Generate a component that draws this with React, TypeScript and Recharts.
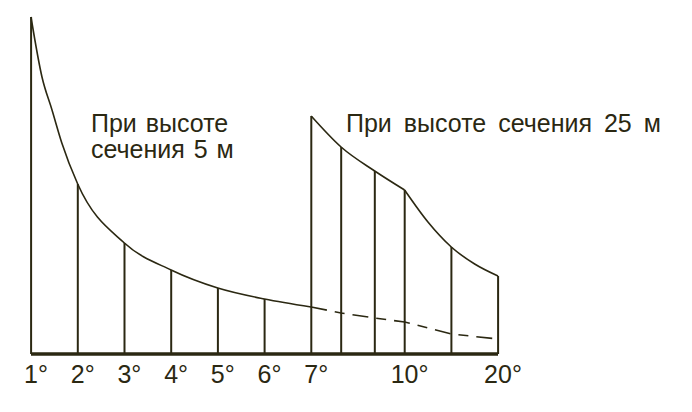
import { ComposedChart, Line, Bar, XAxis, YAxis } from "recharts";

// angle positions on the broken x scale (7° → 10° → 20° squeezed)
const tickPos = [1, 2, 3, 4, 5, 6, 7, 9, 11];
const tickLabels = ["1", "2", "3", "4", "5", "6", "7", "10", "20"];

// section height 5 m
const lowX = [1, 1.235, 1.45, 1.66, 2, 3, 4, 5, 6, 7];
const lowH = [337, 277, 244, 211, 170, 111, 84, 66, 55, 47];

// section height 25 m, up to 10° and after 10° (corner at 10°)
const highAX = [7, 7.64, 8.36, 9];
const highAH = [238, 207, 183, 164];
const highBX = [9, 9.5, 10, 10.5, 11];
const highBH = [164, 132, 107, 90, 78];

// continuation of the 5 m curve
const dashX = [7, 7.64, 8.36, 9, 10, 11];
const dashH = [47, 41, 36, 32, 20, 15];

const stemX = [1, 2, 3, 4, 5, 6, 7, 7.64, 8.36, 9, 10, 11];

const INK = "#2b2812";
const FONT = "'Liberation Sans', Arial, sans-serif";

type Row = { x: number; low?: number; highA?: number; highB?: number; dash?: number; stem?: number };

const pick = (xs: number[], ys: number[], x: number) => {
  const i = xs.indexOf(x);
  return i >= 0 ? ys[i] : undefined;
};

const allX = Array.from(new Set([...lowX, ...highAX, ...highBX, ...dashX])).sort((a, b) => a - b);
const data: Row[] = allX.map((x) => {
  const row: Row = {
    x,
    low: pick(lowX, lowH, x),
    highA: pick(highAX, highAH, x),
    highB: pick(highBX, highBH, x),
    dash: pick(dashX, dashH, x),
  };
  if (stemX.includes(x)) row.stem = row.highA ?? row.highB ?? row.low;
  return row;
});

const AngleTick = ({ x, y, payload }: any) => {
  const i = tickPos.indexOf(payload.value);
  const num = tickLabels[i] ?? "";
  const half = num.length * 6.95;
  return (
    <g>
      <text x={x} y={y} dy={29} textAnchor="middle" fontSize={25} fontFamily={FONT} fill={INK}>
        {num}
      </text>
      <text x={x + half} y={y} dy={29} textAnchor="start" fontSize={25} fontFamily={FONT} fill={INK}>
        °
      </text>
    </g>
  );
};

const noteStyle: React.CSSProperties = {
  position: "absolute",
  fontFamily: FONT,
  fontSize: 25,
  lineHeight: "26px",
  color: INK,
  whiteSpace: "nowrap",
};

export default function App() {
  return (
    <div style={{ position: "relative", width: 684, height: 396, background: "#fff" }}>
      <ComposedChart
        width={684}
        height={396}
        data={data}
        margin={{ top: 6, right: 194, bottom: 10, left: 23 }}
      >
        <XAxis
          dataKey="x"
          type="number"
          domain={[1, 11]}
          ticks={tickPos}
          height={40}
          tickSize={0}
          tickMargin={0}
          tickLine={false}
          axisLine={{ stroke: INK, strokeWidth: 3.5 }}
          tick={<AngleTick />}
          interval={0}
        />
        <YAxis hide domain={[0, 340]} />
        <Bar dataKey="stem" barSize={2} fill={INK} isAnimationActive={false} />
        <Line dataKey="low" type="monotone" connectNulls stroke={INK} strokeWidth={1.6} dot={false} isAnimationActive={false} />
        <Line dataKey="highA" type="monotone" connectNulls stroke={INK} strokeWidth={1.6} dot={false} isAnimationActive={false} />
        <Line dataKey="highB" type="monotone" connectNulls stroke={INK} strokeWidth={1.6} dot={false} isAnimationActive={false} />
        <Line
          dataKey="dash"
          type="linear"
          connectNulls
          stroke={INK}
          strokeWidth={1.6}
          strokeDasharray="16 8 10 8"
          dot={false}
          isAnimationActive={false}
        />
      </ComposedChart>
      <div style={{ ...noteStyle, left: 83, top: 102, wordSpacing: 2 }}>
        При высоте
        <br />
        сечения 5 м
      </div>
      <div style={{ ...noteStyle, left: 338, top: 102, wordSpacing: 5 }}>При высоте сечения 25 м</div>
    </div>
  );
}
